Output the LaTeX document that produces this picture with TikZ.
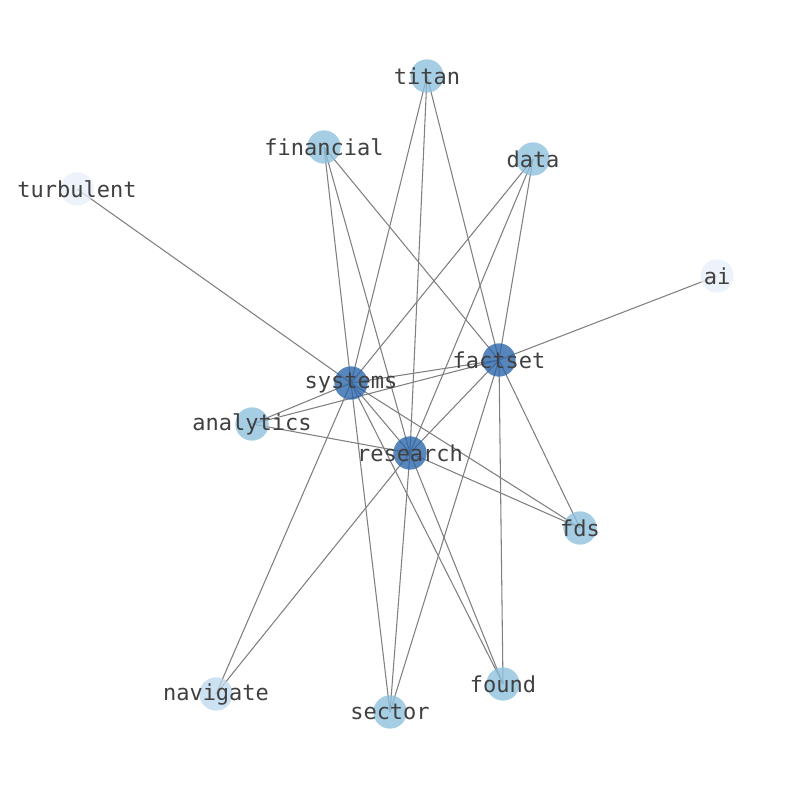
\documentclass[tikz,border=0pt]{standalone}
\usepackage{fontspec}
\setmonofont{DejaVu Sans Mono}
\usepackage{tikz}
\usetikzlibrary{backgrounds}
\definecolor{hubblue}{RGB}{40,100,170}
\definecolor{midblue}{RGB}{140,192,222}
\definecolor{paleblue}{RGB}{190,216,238}
\definecolor{faintblue}{RGB}{232,239,249}
\definecolor{labelgray}{RGB}{64,64,64}
\definecolor{edgegray}{RGB}{128,128,128}

\begin{document}
\begin{tikzpicture}[x=0.75pt,y=-0.75pt,
    vtx/.style={circle,minimum size=25pt,inner sep=0pt,draw=none,fill opacity=0.78},
    lbl/.style={text=labelgray,font=\ttfamily\fontsize{16.5}{18}\selectfont,inner sep=0pt},
    link/.style={draw=edgegray,line width=0.8pt}]
    \useasboundingbox (0,0) rectangle (794,790);
    % words
    \node[vtx,fill=midblue,label={[lbl]center:titan}] (titan) at (427,76) {};
    \node[vtx,fill=midblue,label={[lbl]center:financial}] (financial) at (324,147) {};
    \node[vtx,fill=midblue,label={[lbl]center:data}] (data) at (533,159) {};
    \node[vtx,fill=faintblue,label={[lbl]center:turbulent}] (turbulent) at (77,189) {};
    \node[vtx,fill=faintblue,label={[lbl]center:ai}] (ai) at (717,276) {};
    \node[vtx,fill=hubblue,label={[lbl]center:factset}] (factset) at (499,360) {};
    \node[vtx,fill=hubblue,label={[lbl]center:systems}] (systems) at (351,383) {};
    \node[vtx,fill=midblue,label={[lbl]center:analytics}] (analytics) at (252,424) {};
    \node[vtx,fill=hubblue,label={[lbl]center:research}] (research) at (410,453) {};
    \node[vtx,fill=midblue,label={[lbl]center:fds}] (fds) at (580,528) {};
    \node[vtx,fill=midblue,label={[lbl]center:found}] (found) at (503,684) {};
    \node[vtx,fill=paleblue,label={[lbl]center:navigate}] (navigate) at (216,694) {};
    \node[vtx,fill=midblue,label={[lbl]center:sector}] (sector) at (390,712) {};
    % links
    \begin{scope}[on background layer]
    \foreach \a/\b in {turbulent/systems,titan/systems,titan/research,titan/factset,
        financial/systems,financial/research,financial/factset,
        data/systems,data/research,data/factset,ai/factset,
        factset/systems,factset/analytics,factset/research,factset/fds,factset/found,factset/sector,
        systems/analytics,systems/research,systems/fds,systems/found,systems/navigate,systems/sector,
        research/analytics,research/fds,research/navigate,research/sector,research/found}
        \draw[link] (\a.center) -- (\b.center);
    \end{scope}
\end{tikzpicture}
\end{document}
